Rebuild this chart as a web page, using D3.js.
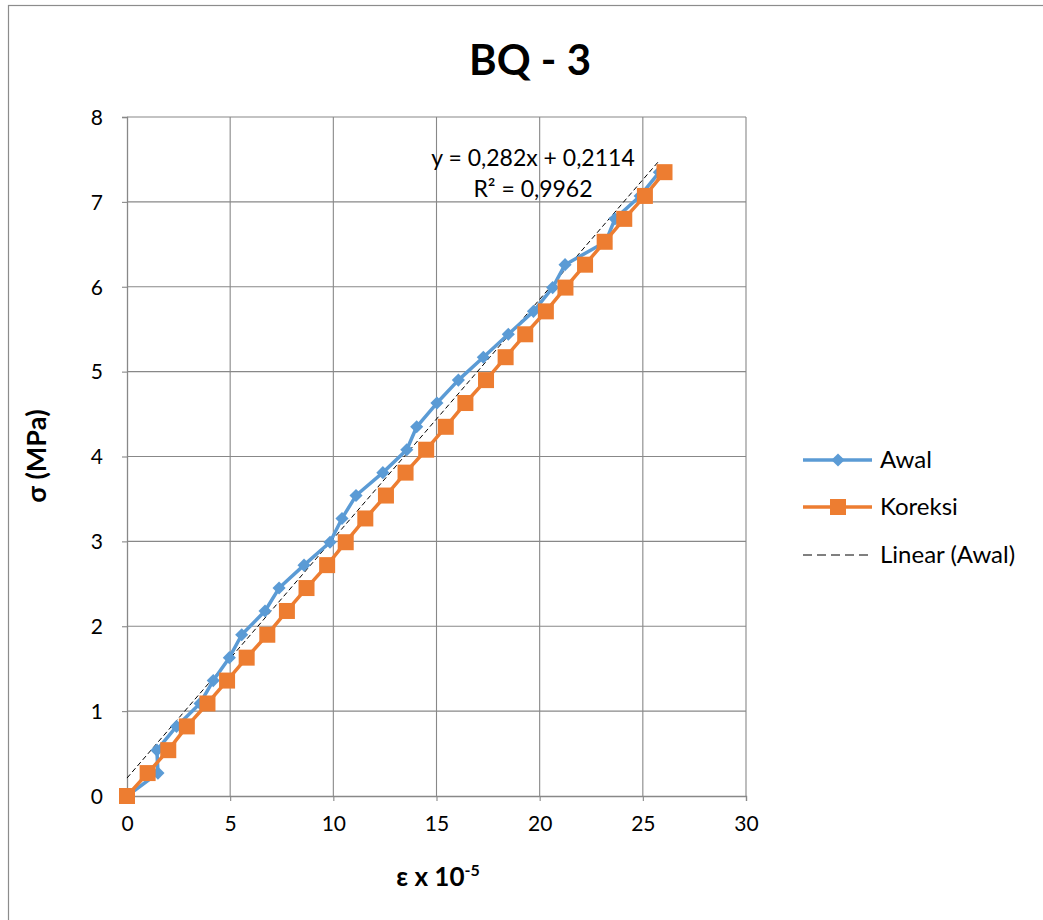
<!DOCTYPE html>
<html>
<head>
<meta charset="utf-8">
<script src="https://cdn.jsdelivr.net/npm/d3@7"></script>
<style>
  body { margin: 0; background: #fff; }
  svg { display: block; font-family: Lato, "Open Sans", "Liberation Sans", sans-serif; }
</style>
</head>
<body>
<svg id="chart" width="1043" height="920"></svg>
<script>
// ---- data ----
const awalX = [0, 1.5, 1.45, 2.4, 3.54, 4.18, 4.96, 5.56, 6.69, 7.37, 8.58, 9.84, 10.42, 11.1, 12.4, 13.56, 14.04, 15.02, 16.06, 17.27, 18.48, 19.7, 20.63, 21.23, 23.2, 23.65, 24.87, 25.8];
const koreksiX = [0, 1.0, 2.0, 2.9, 3.9, 4.85, 5.8, 6.8, 7.75, 8.7, 9.7, 10.6, 11.55, 12.55, 13.5, 14.5, 15.45, 16.4, 17.4, 18.35, 19.3, 20.3, 21.25, 22.2, 23.15, 24.1, 25.1, 26.05];
const sigma = [0, 0.27, 0.54, 0.82, 1.09, 1.36, 1.63, 1.90, 2.18, 2.45, 2.72, 2.99, 3.27, 3.54, 3.81, 4.08, 4.35, 4.63, 4.90, 5.17, 5.44, 5.71, 5.99, 6.26, 6.53, 6.80, 7.07, 7.35];
const trendSlope = 0.282, trendIntercept = 0.2114;
const xTicks = [0, 5, 10, 15, 20, 25, 30];
const yTicks = [0, 1, 2, 3, 4, 5, 6, 7, 8];
const seriesNames = ["Awal", "Koreksi", "Linear (Awal)"];
const titleText = "BQ - 3";
const eqText = "y = 0,282x + 0,2114";
const r2Text = "R² = 0,9962";

const blue = "#5B9BD5", orange = "#ED7D31", gridCol = "#888888";
const svg = d3.select("#chart");

// outer border
svg.append("rect").attr("x", 8.5).attr("y", 5.5).attr("width", 1100).attr("height", 1000)
  .attr("fill", "none").attr("stroke", "#8c8c8c").attr("stroke-width", 1.2);

const x = d3.scaleLinear().domain([0, 30]).range([127, 746]);
const y = d3.scaleLinear().domain([0, 8]).range([796, 117]);

// grid
const g = svg.append("g");
g.selectAll(".vg").data(xTicks.slice(1)).enter().append("line")
  .attr("x1", d => x(d)).attr("x2", d => x(d)).attr("y1", y(0)).attr("y2", y(8))
  .attr("stroke", gridCol).attr("stroke-width", 1.1);
g.selectAll(".hg").data(yTicks.slice(1)).enter().append("line")
  .attr("x1", x(0)).attr("x2", x(30)).attr("y1", d => y(d)).attr("y2", d => y(d))
  .attr("stroke", gridCol).attr("stroke-width", 1.1);

// axes
const xAxis = d3.axisBottom(x).tickValues(xTicks).tickSize(5).tickPadding(14).tickFormat(d3.format("d"));
const yAxis = d3.axisLeft(y).tickValues(yTicks).tickSize(5).tickPadding(19).tickFormat(d3.format("d"));
const xa = svg.append("g").attr("transform", `translate(0,${y(0)})`).call(xAxis);
const ya = svg.append("g").attr("transform", `translate(${x(0)},0)`).call(yAxis);
[xa, ya].forEach(a => {
  a.select(".domain").attr("stroke", gridCol).attr("stroke-width", 1.3);
  a.selectAll(".tick line").attr("stroke", gridCol).attr("stroke-width", 1.1);
  a.selectAll("text").attr("font-size", 21).attr("fill", "#000")
    .attr("font-family", "Lato, 'Open Sans', sans-serif");
});
xa.selectAll("text").attr("dy", "0.75em");
ya.selectAll("text").attr("dy", "0.35em");

// trendline
svg.append("line")
  .attr("x1", x(0)).attr("y1", y(trendIntercept))
  .attr("x2", x(d3.max(awalX))).attr("y2", y(trendSlope * d3.max(awalX) + trendIntercept))
  .attr("stroke", "#000").attr("stroke-width", 1).attr("stroke-dasharray", "5,3");

const line = d3.line().x(d => x(d[0])).y(d => y(d[1]));
const awal = awalX.map((v, i) => [v, sigma[i]]);
const kor = koreksiX.map((v, i) => [v, sigma[i]]);

svg.append("path").datum(awal).attr("d", line).attr("fill", "none")
  .attr("stroke", blue).attr("stroke-width", 3.5).attr("stroke-linejoin", "round");
svg.selectAll(".dm").data(awal).enter().append("path")
  .attr("d", d3.symbol().type(d3.symbolDiamond2).size(110))
  .attr("transform", d => `translate(${x(d[0])},${y(d[1])})`)
  .attr("fill", blue);

svg.append("path").datum(kor).attr("d", line).attr("fill", "none")
  .attr("stroke", orange).attr("stroke-width", 3.5).attr("stroke-linejoin", "round");
svg.selectAll(".sq").data(kor).enter().append("rect")
  .attr("x", d => x(d[0]) - 8).attr("y", d => y(d[1]) - 8)
  .attr("width", 16).attr("height", 16).attr("fill", orange);

// equation
svg.append("text").attr("x", 533).attr("y", 166).attr("text-anchor", "middle")
  .attr("font-size", 23).attr("fill", "#000").text(eqText);
svg.append("text").attr("x", 533).attr("y", 197).attr("text-anchor", "middle")
  .attr("font-size", 23).attr("fill", "#000").text(r2Text);

// title
svg.append("text").attr("x", 530).attr("y", 75).attr("text-anchor", "middle")
  .attr("font-size", 42).attr("font-weight", "bold").attr("fill", "#000").text(titleText);

// axis titles
const xt = svg.append("text").attr("x", 438).attr("y", 886).attr("text-anchor", "middle")
  .attr("font-size", 26).attr("font-weight", "bold").attr("fill", "#000");
xt.append("tspan").text("ε x 10");
xt.append("tspan").attr("dy", -10).attr("font-size", 16).text("-5");

svg.append("text").attr("transform", "translate(46,456) rotate(-90)").attr("text-anchor", "middle")
  .attr("font-size", 27).attr("font-weight", "bold").attr("fill", "#000").text("σ (MPa)");

// legend
const leg = svg.append("g");
const ly = [460, 507, 555];
leg.append("line").attr("x1", 803).attr("x2", 872).attr("y1", ly[0]).attr("y2", ly[0])
  .attr("stroke", blue).attr("stroke-width", 3.5);
leg.append("path").attr("d", d3.symbol().type(d3.symbolDiamond2).size(110))
  .attr("transform", `translate(838,${ly[0]})`).attr("fill", blue);
leg.append("line").attr("x1", 803).attr("x2", 872).attr("y1", ly[1]).attr("y2", ly[1])
  .attr("stroke", orange).attr("stroke-width", 3.5);
leg.append("rect").attr("x", 830).attr("y", ly[1] - 8).attr("width", 16).attr("height", 16).attr("fill", orange);
leg.append("line").attr("x1", 803).attr("x2", 872).attr("y1", ly[2]).attr("y2", ly[2])
  .attr("stroke", "#000").attr("stroke-width", 1).attr("stroke-dasharray", "9,5");
leg.selectAll(".lt").data(seriesNames).enter().append("text")
  .attr("x", 880).attr("y", (d, i) => ly[i]).attr("dy", "0.35em")
  .attr("font-size", 24).attr("fill", "#000").text(d => d);
</script>
</body>
</html>
